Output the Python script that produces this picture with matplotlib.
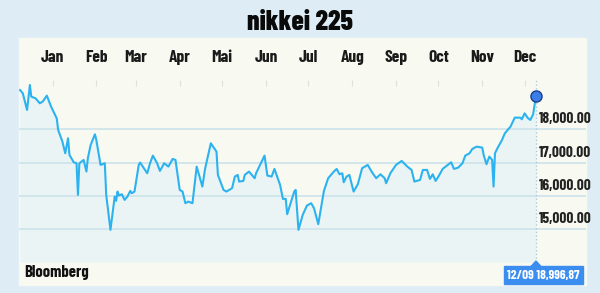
import numpy as np
import pandas as pd
import matplotlib
matplotlib.use('Agg')
import matplotlib.pyplot as plt
from matplotlib.patches import Rectangle, Polygon

# Nikkei 225, one year of closes (day offset from start, index level)
start = pd.Timestamp('2013-12-09')
days = [0, 2, 5, 7, 8, 11, 14, 16, 19, 22, 26, 27, 30, 32, 34, 35, 38, 40, 41, 42,
        45, 47, 48, 50, 53, 54, 57, 60, 61, 64, 67, 68, 69, 70, 72, 74, 76, 78, 79, 81,
        84, 85, 90, 92, 94, 97, 99, 102, 105, 108, 110, 113, 115, 117, 119, 122, 125, 129, 131, 135,
        139, 140, 144, 146, 150, 152, 154, 155, 158, 159, 162, 166, 167, 173, 175, 178, 180, 184, 186, 188,
        189, 194, 195, 197, 200, 203, 206, 208, 211, 215, 218, 222, 224, 226, 228, 229, 231, 233, 236, 239,
        242, 246, 249, 252, 255, 258, 259, 262, 266, 270, 274, 277, 279, 283, 285, 288, 290, 292, 294, 296,
        299, 302, 305, 307, 310, 313, 315, 318, 320, 323, 327, 328, 330, 332, 334, 335, 336, 338, 341, 343,
        347, 350, 354, 355, 357, 359, 361, 363, 365]
values = [19180, 19080, 18580, 19330, 18980, 18930, 18780, 18830, 19010, 18680,
          18330, 17980, 17630, 17280, 17730, 17230, 17010, 16980, 16030, 16980,
          17080, 16730, 17130, 17530, 17850, 17680, 16930, 16980, 16030, 14980,
          15980, 15850, 16130, 16010, 16050, 15880, 15980, 16150, 16080, 16130,
          16930, 17000, 16680, 16980, 17210, 16980, 16750, 16980, 16880, 17110,
          17080, 16180, 16130, 15780, 15830, 15780, 16880, 16280, 16830, 17580,
          17330, 16630, 16180, 16130, 16230, 16580, 16630, 16430, 16450, 16630,
          16730, 16530, 16680, 17210, 16610, 16580, 16810, 16330, 15910, 15910,
          15450, 16130, 16180, 14980, 15430, 15710, 15780, 15630, 15150, 16150,
          16530, 16730, 16810, 16650, 16680, 16410, 16580, 16630, 16130, 16350,
          16830, 16930, 16710, 16530, 16650, 16530, 16380, 16680, 16930, 17050,
          16880, 16780, 16430, 16480, 16780, 16780, 16510, 16650, 16450, 16580,
          16810, 16910, 17010, 16810, 16850, 16980, 17210, 17280, 17410, 17480,
          17450, 17230, 16950, 17180, 17080, 16280, 17280, 17450, 17680, 17880,
          18080, 18350, 18350, 18300, 18480, 18350, 18280, 18450, 18996.87]
grid_levels = [15000, 16000, 17000, 18000]
months = ['Jan', 'Feb', 'Mar', 'Apr', 'Mai', 'Jun', 'Jul', 'Aug', 'Sep', 'Oct', 'Nov', 'Dec']
title = 'nikkei 225'
source = 'Bloomberg'
last_label = '12/09 18,996,87'

W, H = 600, 293
bg = '#deedf5'
panel = '#f8faf2'
fill = '#eaf4f5'
line_c = '#2cb3ef'
cond = ['Barlow Condensed', 'DejaVu Sans']

def fx(px):
    return px / W

def fy(py):
    return 1 - py / H

dates = start + pd.to_timedelta(days, unit='D')
end = dates[-1]

fig = plt.figure(figsize=(W / 100, H / 100), dpi=100, facecolor=bg)
fig.patches.append(Rectangle((fx(19), fy(285)), fx(567), (285 - 38) / H,
                             transform=fig.transFigure, color=panel, zorder=0))

ax = fig.add_axes([fx(19), fy(262), fx(567), (262 - 80) / H])
ax.set_zorder(2)
ax.set_facecolor(panel)
ax.set_xlim(start - pd.Timedelta(days=0.7), end + pd.Timedelta(days=35.4))
ax.set_ylim(14015, 19480)

ax.fill_between(dates, values, 14015, color=fill, lw=0, zorder=1)
ax.set_yticks(grid_levels)
ax.grid(axis='y', color='#c9e1ea', lw=1.1, zorder=2)
ax.plot(dates, values, color=line_c, lw=1.5, zorder=3, solid_joinstyle='round')
ax.axvline(end, color='#a9cde0', ls=':', lw=1, zorder=2)
ax.plot(end, values[-1], 'o', ms=8, mfc='#3b7de9', mec='#1c3f8c', mew=1,
        zorder=5, clip_on=False)

for s in ax.spines.values():
    s.set_visible(False)
ax.tick_params(axis='y', left=False, labelleft=False)

mticks = pd.date_range('2014-01-01', periods=12, freq='MS')
ax.set_xticks(mticks)
ax.set_xticklabels(months, family=cond, fontweight='bold', fontsize=12.5, color='#1a1a1a')
ax.xaxis.tick_top()
ax.tick_params(axis='x', direction='in', length=4, color='#e0e2da', pad=11)

for lv in grid_levels:
    ax.text(end + pd.Timedelta(days=2.0), lv + 90, f'{lv:,.2f}', family=cond,
            fontweight='bold', fontsize=11, color='#222222', va='bottom', ha='left')

fig.text(0.5, fy(23), title, family=cond, fontweight='heavy', fontsize=20,
         ha='center', va='center', color='#0a0a0a')
fig.text(fx(24), fy(272), source, family=cond, fontweight='bold', fontsize=12,
         ha='left', va='center', color='#111111')

fig.patches.append(Rectangle((fx(504), fy(284)), fx(79), 18 / H,
                             transform=fig.transFigure, color='#3b8ef0', zorder=3))
fig.patches.append(Polygon([(fx(531), fy(266.5)), (fx(536), fy(261)), (fx(541), fy(266.5))],
                           transform=fig.transFigure, color='#3b8ef0', zorder=3))
fig.text(fx(543.5), fy(275), last_label, family=cond, fontweight='bold', fontsize=9.5,
         ha='center', va='center', color='white')

fig.savefig('out.png', dpi=100, facecolor=bg)
